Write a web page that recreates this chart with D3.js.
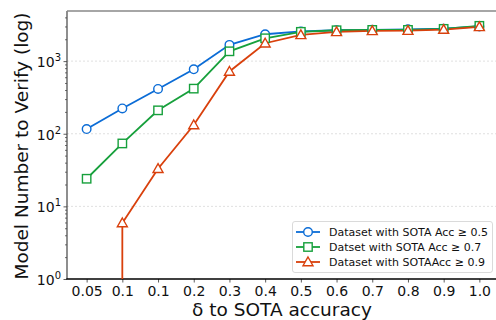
<!DOCTYPE html>
<html>
<head>
<meta charset="utf-8">
<script src="https://cdn.jsdelivr.net/npm/d3@7"></script>
<style>
  body { margin: 0; background: #fff; }
  svg { display: block; font-family: 'DejaVu Sans', sans-serif; }
</style>
</head>
<body>
<svg id="chart" width="496" height="320"></svg>
<script>
// x categories (labels repeat, so position by index)
const deltaLabels = ['0.05', '0.1', '0.1', '0.2', '0.3', '0.4', '0.5', '0.6', '0.7', '0.8', '0.9', '1.0'];

// model counts per dataset group (0 = nothing to verify, clipped off the log axis)
const acc05 = [116, 223, 414, 771, 1673, 2344, 2560, 2660, 2700, 2740, 2790, 3000];
const acc07 = [24, 73.5, 210, 418, 1365, 2062, 2530, 2660, 2690, 2690, 2780, 3060];
const acc09 = [0, 5.9, 33, 132, 720, 1762, 2297, 2530, 2610, 2630, 2720, 2960];

const seriesNames = [
  'Dataset with SOTA Acc \u2265 0.5',
  'Datset with SOTA Acc \u2265 0.7',
  'Dataset with SOTAAcc \u2265 0.9',
];
const yTickExps = [0, 1, 2, 3];

const series = [
  { name: seriesNames[0], values: acc05, color: '#0b6cd6', marker: 'circle' },
  { name: seriesNames[1], values: acc07, color: '#17a03c', marker: 'square' },
  { name: seriesNames[2], values: acc09, color: '#d9400c', marker: 'triangle' },
];

// --------------------------------------------------------------------------

const svg = d3.select('#chart');
const plot = { left: 67, right: 499, top: 11, bottom: 279 };

const x = d3.scaleLinear()
  .domain([-0.55, deltaLabels.length - 1 + 0.55])
  .range([plot.left, plot.right]);
const y = d3.scaleLog()
  .domain([1, Math.pow(10, 3.69)])
  .range([plot.bottom, plot.top]);

// non-positive values go far below the axis, like matplotlib's clipping
const yPos = (v) => (v > 0 ? y(v) : plot.bottom + 1e5);

svg.append('defs').append('clipPath').attr('id', 'clip')
  .append('rect')
  .attr('x', plot.left).attr('y', plot.top)
  .attr('width', plot.right - plot.left).attr('height', plot.bottom - plot.top);

// grid lines at decades
svg.append('g')
  .selectAll('line')
  .data(yTickExps.slice(1))
  .enter()
  .append('line')
  .attr('x1', plot.left).attr('x2', plot.right)
  .attr('y1', (e) => y(Math.pow(10, e))).attr('y2', (e) => y(Math.pow(10, e)))
  .attr('stroke', '#d8d8d8')
  .attr('stroke-width', 0.8)
  .attr('stroke-dasharray', '2,2');

// y axis: major + minor ticks
const yMinor = [];
for (let e = 0; e < 4; e++) {
  for (let m = 2; m <= 9; m++) {
    const v = m * Math.pow(10, e);
    if (v <= y.domain()[1]) yMinor.push(v);
  }
}
const yAxisG = svg.append('g').attr('transform', `translate(${plot.left},0)`);
yAxisG.call(d3.axisLeft(y).tickValues(yMinor).tickSize(2).tickFormat(''))
  .call((g) => g.select('.domain').remove())
  .selectAll('line').attr('stroke', '#333').attr('stroke-width', 0.7);
const yMajor = svg.append('g').attr('transform', `translate(${plot.left},0)`);
yMajor.call(d3.axisLeft(y).tickValues(yTickExps.map((e) => Math.pow(10, e))).tickSize(3.5).tickFormat(''))
  .call((g) => g.select('.domain').remove())
  .selectAll('line').attr('stroke', '#333').attr('stroke-width', 0.8);

// y tick labels as 10^n
const yLab = svg.append('g')
  .selectAll('text')
  .data(yTickExps)
  .enter()
  .append('text')
  .attr('x', plot.left - 6)
  .attr('y', (e) => y(Math.pow(10, e)) + 6)
  .attr('text-anchor', 'end')
  .attr('font-size', 14)
  .attr('fill', '#111');
yLab.append('tspan').text('10');
yLab.append('tspan').attr('dy', -6).attr('font-size', 10).text((e) => e);

// x axis
const xAxisG = svg.append('g').attr('transform', `translate(0,${plot.bottom})`);
xAxisG.call(d3.axisBottom(x).tickValues(d3.range(deltaLabels.length)).tickSize(3.5)
  .tickPadding(4).tickFormat((i) => deltaLabels[i]))
  .call((g) => g.select('.domain').remove());
xAxisG.selectAll('text').attr('font-size', 14).attr('fill', '#111')
  .attr('font-family', "'DejaVu Sans', sans-serif");
xAxisG.selectAll('line').attr('stroke', '#333').attr('stroke-width', 0.8);

// spines
svg.append('line').attr('x1', plot.left).attr('x2', plot.left)
  .attr('y1', plot.top).attr('y2', plot.bottom)
  .attr('stroke', '#444').attr('stroke-width', 1.2);
svg.append('line').attr('x1', plot.left).attr('x2', plot.right)
  .attr('y1', plot.top).attr('y2', plot.top)
  .attr('stroke', '#888').attr('stroke-width', 1.5);
svg.append('line').attr('x1', plot.left - 0.6).attr('x2', plot.right)
  .attr('y1', plot.bottom).attr('y2', plot.bottom)
  .attr('stroke', '#000').attr('stroke-width', 1.3);

// axis titles
svg.append('text')
  .attr('transform', `translate(23,${(plot.top + plot.bottom) / 2 + 1}) rotate(-90)`)
  .attr('text-anchor', 'middle')
  .attr('dominant-baseline', 'middle')
  .attr('font-size', 18.5)
  .attr('fill', '#111')
  .text('Model Number to Verify (log)');
svg.append('text')
  .attr('x', 282)
  .attr('y', 316)
  .attr('text-anchor', 'middle')
  .attr('font-size', 18.5)
  .attr('fill', '#111')
  .text('\u03b4 to SOTA accuracy');

// markers
function drawMarker(g, kind, cx, cy, color) {
  if (kind === 'circle') {
    g.append('circle').attr('cx', cx).attr('cy', cy).attr('r', 4.3)
      .attr('fill', '#fff').attr('stroke', color).attr('stroke-width', 1.4);
  } else if (kind === 'square') {
    g.append('rect').attr('x', cx - 4.2).attr('y', cy - 4.2).attr('width', 8.4).attr('height', 8.4)
      .attr('fill', '#fff').attr('stroke', color).attr('stroke-width', 1.4);
  } else {
    const s = 5;
    g.append('path')
      .attr('d', `M${cx},${cy - s}L${cx + s},${cy + s * 0.75}L${cx - s},${cy + s * 0.75}Z`)
      .attr('fill', '#fff').attr('stroke', color).attr('stroke-width', 1.4);
  }
}

// lines and markers
const lineGen = d3.line().x((d, i) => x(i)).y((d) => yPos(d));
const dataG = svg.append('g').attr('clip-path', 'url(#clip)');
series.forEach((s) => {
  dataG.append('path')
    .datum(s.values)
    .attr('d', lineGen)
    .attr('fill', 'none')
    .attr('stroke', s.color)
    .attr('stroke-width', 1.8);
});
series.forEach((s) => {
  const mg = dataG.append('g');
  s.values.forEach((v, i) => {
    if (v > 0) drawMarker(mg, s.marker, x(i), y(v), s.color);
  });
});

// legend
const leg = svg.append('g');
leg.append('rect')
  .attr('x', 292.5).attr('y', 221.5).attr('width', 200).attr('height', 51)
  .attr('rx', 2.5)
  .attr('fill', '#fff').attr('fill-opacity', 0.85)
  .attr('stroke', '#d0d0d0').attr('stroke-width', 0.8);
series.forEach((s, i) => {
  const ly = 232 + i * 15;
  leg.append('line').attr('x1', 296).attr('x2', 320).attr('y1', ly).attr('y2', ly)
    .attr('stroke', s.color).attr('stroke-width', 1.8);
  drawMarker(leg, s.marker, 308, ly, s.color);
  leg.append('text')
    .attr('x', 329).attr('y', ly + 4)
    .attr('font-size', 11)
    .attr('fill', '#111')
    .text(s.name);
});
</script>
</body>
</html>
